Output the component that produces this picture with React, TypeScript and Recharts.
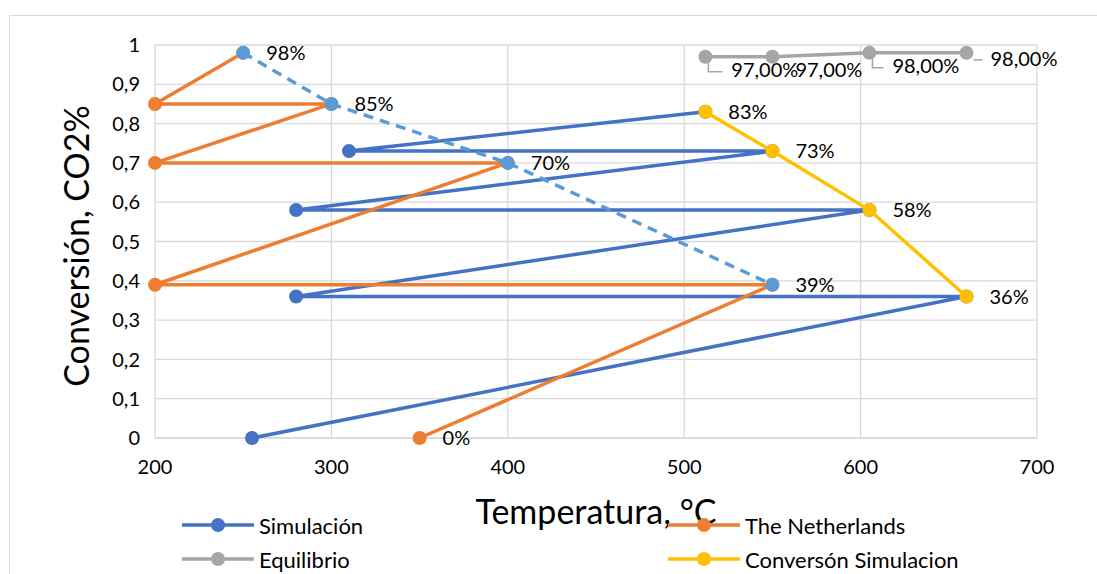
import { ScatterChart, Scatter, XAxis, YAxis, CartesianGrid } from "recharts"

// Datos
const simX = [255, 660, 280, 605, 280, 550, 310, 512]
const simY = [0, 0.36, 0.36, 0.58, 0.58, 0.73, 0.73, 0.83]
const nlX = [350, 550, 200, 400, 200, 300, 200, 250]
const nlY = [0, 0.39, 0.39, 0.7, 0.7, 0.85, 0.85, 0.98]
const nlTrendX = [250, 300, 400, 550]
const nlTrendY = [0.98, 0.85, 0.7, 0.39]
const eqX = [512, 550, 605, 660]
const eqY = [0.97, 0.97, 0.98, 0.98]
const convX = [512, 550, 605, 660]
const convY = [0.83, 0.73, 0.58, 0.36]

const xTicks = [200, 300, 400, 500, 600, 700]
const yTicks = [0, 0.1, 0.2, 0.3, 0.4, 0.5, 0.6, 0.7, 0.8, 0.9, 1]

// desplazamiento de etiquetas de Equilibrio (con líneas guía)
const eqLabelOffsets = [
  { dx: 26, dy: 15, leader: "elbow" },
  { dx: 23, dy: 15, leader: "none" },
  { dx: 23, dy: 15, leader: "elbow" },
  { dx: 24, dy: 8, leader: "flat" },
]

const BLUE = "#4472C4"
const ORANGE = "#ED7D31"
const GRAY = "#A5A5A5"
const YELLOW = "#FFC000"
const LIGHTBLUE = "#5B9BD5"
const FONT = "Lato, 'Open Sans', sans-serif"

const toPoints = (xs: number[], ys: number[]) => xs.map((x, i) => ({ x, y: ys[i], i }))

const pct = (v: number) => `${Math.round(v * 100)}%`
const pct2 = (v: number) => `${(v * 100).toFixed(2).replace(".", ",")}%`

const makeShape =
  (color: string, label?: (p: any) => string | null) =>
  (props: any) => {
    const { cx, cy, payload } = props
    const text = label ? label(payload) : null
    return (
      <g>
        <circle cx={cx} cy={cy} r={7} fill={color} />
        {text && (
          <text x={cx + 23} y={cy + 2} dominantBaseline="middle" fontSize={20} fontFamily={FONT} fill="#000">
            {text}
          </text>
        )}
      </g>
    )
  }

const eqShape = (props: any) => {
  const { cx, cy, payload } = props
  const o = eqLabelOffsets[payload.i]
  const tx = cx + o.dx
  const ty = cy + o.dy
  return (
    <g>
      <circle cx={cx} cy={cy} r={7} fill={GRAY} />
      {o.leader === "elbow" && (
        <polyline points={`${cx + 3},${cy + 5} ${cx + 3},${ty} ${tx - 9},${ty}`} fill="none" stroke={GRAY} strokeWidth={1.5} />
      )}
      {o.leader === "flat" && (
        <line x1={cx + 7} y1={ty - 1} x2={tx - 8} y2={ty - 1} stroke={GRAY} strokeWidth={1.5} />
      )}
      <text x={tx} y={ty} dominantBaseline="middle" fontSize={20} fontFamily={FONT} fill="#000">
        {pct2(payload.y)}
      </text>
    </g>
  )
}

const legendItems = [
  { name: "Simulación", color: BLUE, left: 182, top: 525 },
  { name: "The Netherlands", color: ORANGE, left: 668, top: 525 },
  { name: "Equilibrio", color: GRAY, left: 182, top: 559 },
  { name: "Conversón Simulacion", color: YELLOW, left: 668, top: 559 },
]

export default function App() {
  return (
    <div style={{ position: "absolute", left: 0, top: 0, width: 1097, height: 574, background: "#fff", overflow: "hidden", fontFamily: FONT }}>
      <div style={{ position: "absolute", left: 9, top: 15, width: 1200, height: 700, border: "1px solid #D9D9D9" }} />
      <ScatterChart width={1097} height={574} margin={{ top: 45, right: 60, bottom: 106, left: 95 }} style={{ position: "absolute", left: 0, top: 0 }}>
        <CartesianGrid stroke="#D9D9D9" strokeWidth={1.3} />
        <XAxis
          type="number"
          dataKey="x"
          domain={[200, 700]}
          ticks={xTicks}
          height={30}
          tickLine={false}
          tickSize={6}
          tickMargin={16}
          axisLine={{ stroke: "#D9D9D9", strokeWidth: 1.3 }}
          tick={{ fontSize: 20, fill: "#000", fontFamily: FONT }}
          label={{
            content: () => (
              <text x={596} y={515} textAnchor="middle" dominantBaseline="middle" fontSize={34} fontFamily={FONT} fill="#000">
                Temperatura, °C
              </text>
            ),
          }}
        />
        <YAxis
          type="number"
          dataKey="y"
          domain={[0, 1]}
          ticks={yTicks}
          width={60}
          tickLine={false}
          axisLine={false}
          tickSize={6}
          tickMargin={9}
          tickFormatter={(v: number) => String(v).replace(".", ",")}
          tick={{ fontSize: 20, fill: "#000", fontFamily: FONT }}
          label={{
            content: () => (
              <text
                x={80}
                y={246}
                transform="rotate(-90 80 246)"
                textAnchor="middle"
                dominantBaseline="middle"
                fontSize={34}
                fontFamily={FONT}
                fill="#000"
              >
                Conversión, CO2%
              </text>
            ),
          }}
        />
        <Scatter
          name="Simulación"
          data={toPoints(simX, simY)}
          fill={BLUE}
          line={{ stroke: BLUE, strokeWidth: 3.5 }}
          lineJointType="linear"
          shape={makeShape(BLUE)}
          isAnimationActive={false}
        />
        <Scatter
          name="The Netherlands"
          data={toPoints(nlX, nlY)}
          fill={ORANGE}
          line={{ stroke: ORANGE, strokeWidth: 3.5 }}
          lineJointType="linear"
          shape={makeShape(ORANGE, (p) => (p.i === 0 ? pct(p.y) : null))}
          isAnimationActive={false}
        />
        <Scatter
          name="Equilibrio"
          data={toPoints(eqX, eqY)}
          fill={GRAY}
          line={{ stroke: GRAY, strokeWidth: 3.5 }}
          lineJointType="linear"
          shape={eqShape}
          isAnimationActive={false}
        />
        <Scatter
          name="Conversón Simulacion"
          data={toPoints(convX, convY)}
          fill={YELLOW}
          line={{ stroke: YELLOW, strokeWidth: 3.5 }}
          lineJointType="linear"
          shape={makeShape(YELLOW, (p) => pct(p.y))}
          isAnimationActive={false}
        />
        <Scatter
          name="Tendencia"
          data={toPoints(nlTrendX, nlTrendY)}
          fill={LIGHTBLUE}
          line={{ stroke: LIGHTBLUE, strokeWidth: 3.5, strokeDasharray: "10 7" }}
          lineJointType="linear"
          shape={makeShape(LIGHTBLUE, (p) => pct(p.y))}
          isAnimationActive={false}
        />
      </ScatterChart>
      {legendItems.map((it) => (
        <div key={it.name} style={{ position: "absolute", left: it.left, top: it.top - 14, height: 28, display: "flex", alignItems: "center" }}>
          <svg width={72} height={28}>
            <line x1={0} y1={14} x2={72} y2={14} stroke={it.color} strokeWidth={3.5} />
            <circle cx={36} cy={14} r={7} fill={it.color} />
          </svg>
          <span style={{ marginLeft: 5, fontSize: 22, color: "#000" }}>{it.name}</span>
        </div>
      ))}
    </div>
  )
}
